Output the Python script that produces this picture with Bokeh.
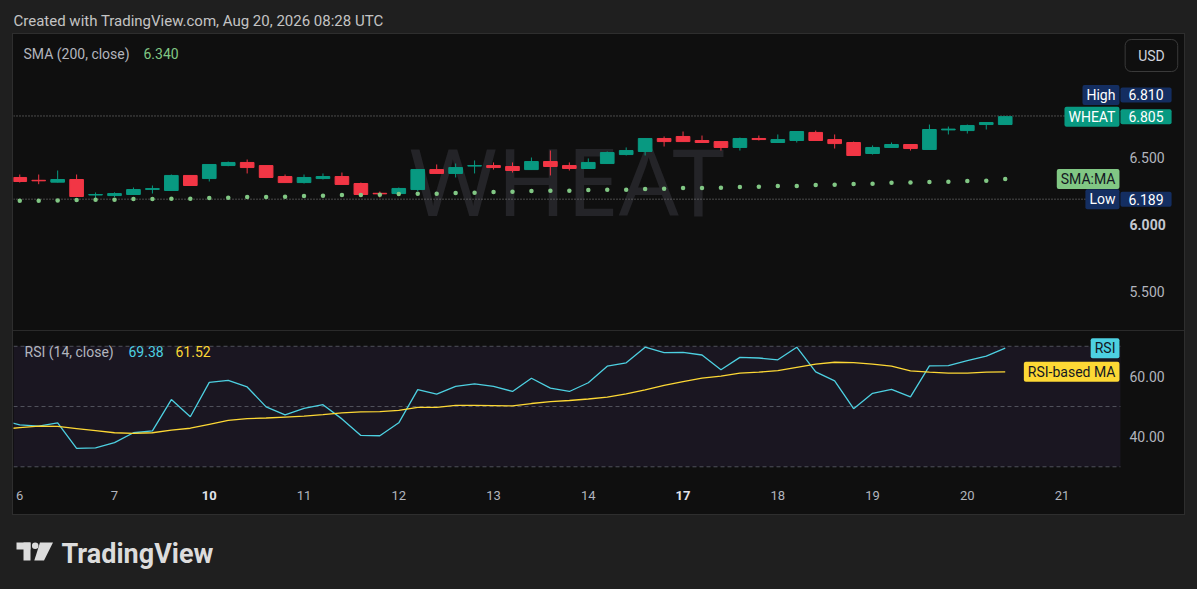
from bokeh.plotting import figure
from bokeh.layouts import column
from bokeh.models import (ColumnDataSource, Range1d, FixedTicker, PrintfTickFormatter,
                          BoxAnnotation, Label, LinearAxis)
from bokeh.core.properties import value
from bokeh.embed import file_html
from bokeh.resources import INLINE

# ---------------- data ----------------
SYMBOL = "WHEAT"
HEADER = "Created with TradingView.com, Aug 20, 2026 08:28 UTC"
DAY_LABELS = ["6", "7", "10", "11", "12", "13", "14", "17", "18", "19", "20", "21"]
BARS_PER_DAY = 5

OPEN = [6.351, 6.330, 6.316, 6.336, 6.220, 6.216, 6.224, 6.262, 6.254, 6.366,
        6.343, 6.440, 6.463, 6.440, 6.358, 6.313, 6.343, 6.358, 6.306, 6.233,
        6.231, 6.261, 6.410, 6.381, 6.436, 6.440, 6.433, 6.410, 6.470, 6.440,
        6.418, 6.455, 6.522, 6.545, 6.642, 6.657, 6.627, 6.619, 6.575, 6.642,
        6.612, 6.627, 6.687, 6.634, 6.612, 6.530, 6.575, 6.597, 6.560, 6.706,
        6.701, 6.746, 6.746]
HIGH = [6.373, 6.373, 6.403, 6.373, 6.239, 6.240, 6.276, 6.291, 6.373, 6.366,
        6.448, 6.470, 6.485, 6.440, 6.373, 6.373, 6.381, 6.388, 6.313, 6.246,
        6.276, 6.410, 6.448, 6.455, 6.478, 6.463, 6.463, 6.500, 6.552, 6.463,
        6.493, 6.545, 6.575, 6.642, 6.657, 6.694, 6.664, 6.619, 6.649, 6.664,
        6.672, 6.694, 6.701, 6.672, 6.619, 6.590, 6.612, 6.597, 6.746, 6.731,
        6.746, 6.761, 6.810]
LOW = [6.313, 6.301, 6.314, 6.207, 6.189, 6.205, 6.222, 6.231, 6.254, 6.291,
       6.321, 6.435, 6.381, 6.351, 6.313, 6.306, 6.336, 6.299, 6.224, 6.201,
       6.231, 6.250, 6.381, 6.351, 6.381, 6.410, 6.388, 6.410, 6.366, 6.403,
       6.418, 6.455, 6.515, 6.515, 6.582, 6.619, 6.612, 6.552, 6.552, 6.627,
       6.612, 6.612, 6.627, 6.567, 6.515, 6.522, 6.575, 6.552, 6.560, 6.672,
       6.679, 6.709, 6.746]
CLOSE = [6.321, 6.326, 6.336, 6.209, 6.224, 6.231, 6.261, 6.268, 6.366, 6.291,
         6.448, 6.463, 6.425, 6.351, 6.313, 6.351, 6.358, 6.299, 6.224, 6.229,
         6.269, 6.410, 6.381, 6.425, 6.440, 6.425, 6.403, 6.470, 6.433, 6.418,
         6.463, 6.537, 6.552, 6.642, 6.619, 6.619, 6.612, 6.575, 6.642, 6.634,
         6.634, 6.694, 6.627, 6.604, 6.515, 6.575, 6.597, 6.567, 6.709, 6.712,
         6.739, 6.761, 6.805]
SMA200 = [6.177, 6.178, 6.179, 6.183, 6.184, 6.185, 6.190, 6.191, 6.192, 6.193,
          6.198, 6.199, 6.205, 6.206, 6.207, 6.213, 6.214, 6.220, 6.221, 6.222,
          6.228, 6.229, 6.230, 6.236, 6.237, 6.243, 6.244, 6.250, 6.251, 6.252,
          6.258, 6.259, 6.260, 6.265, 6.266, 6.272, 6.273, 6.274, 6.280, 6.281,
          6.287, 6.288, 6.295, 6.296, 6.302, 6.304, 6.312, 6.314, 6.318, 6.319,
          6.325, 6.327, 6.340]
# RSI series start one bar before the first visible candle
RSI = [45.5,
       43.9, 43.5, 44.6, 36.1, 36.3, 38.0, 41.3, 41.9, 52.3, 46.6,
       58.0, 58.7, 56.5, 49.9, 47.2, 49.4, 50.6, 45.9, 40.4, 40.3,
       44.6, 55.6, 54.1, 56.7, 57.5, 56.7, 55.0, 59.4, 56.1, 55.0,
       57.9, 63.4, 64.5, 69.7, 67.9, 68.0, 67.1, 62.2, 66.3, 66.1,
       65.5, 69.7, 61.5, 58.5, 49.3, 54.4, 55.7, 53.2, 63.5, 63.6,
       65.2, 66.7, 69.38]
RSI_MA = [42.4,
          43.0, 43.5, 43.4, 42.7, 42.0, 41.3, 41.1, 41.3, 42.2, 42.8,
          44.1, 45.4, 46.0, 46.2, 46.5, 46.8, 47.3, 47.9, 48.2, 48.3,
          48.7, 49.7, 49.7, 50.4, 50.4, 50.3, 50.2, 51.0, 51.6, 52.0,
          52.5, 53.1, 54.2, 55.5, 57.0, 58.3, 59.4, 60.1, 61.1, 61.4,
          61.9, 63.0, 64.1, 64.7, 64.6, 64.1, 63.4, 61.8, 61.4, 61.1,
          61.1, 61.4, 61.52]
PRICE_TICKS = [5.5, 6.0, 6.5]
PRICE_ROUND = 6.0          # whole-number level, drawn in bold
RSI_TICKS = [40, 60]
RSI_BANDS = [70, 50, 30]

# ---------------- style ----------------
FONT = "Roboto"
UP, DOWN = "#089981", "#f23645"
SMA_C, RSI_C, MA_C = "#81c784", "#4dd0e1", "#fdd835"
NAVY = "#142e61"
TXT = "#b2b5be"
W = 1197

n = len(CLOSE)
bar_x = list(range(n))
rsi_x = list(range(-1, n))

# frame spans the pane plus the price-scale strip on its right
x_range = Range1d(-0.33, 61.46)
PANE_END = 58.08          # right edge of the drawing pane (start of price scale)
price_range = Range1d(5.209, 7.418)
rsi_range = Range1d(22.8, 74.9)


def style_axis(ax, standoff, size="14px", color=TXT, bold=False):
    ax.axis_line_color = None
    ax.major_tick_line_color = None
    ax.minor_tick_line_color = None
    ax.major_tick_out = 0
    ax.major_tick_in = 0
    ax.major_label_standoff = standoff
    ax.major_label_text_font = FONT
    ax.major_label_text_font_size = size
    ax.major_label_text_color = color
    ax.major_label_text_font_style = "bold" if bold else "normal"


def base_fig(height, y_range, **kw):
    f = figure(width=W, height=height, x_range=x_range, y_range=y_range,
               output_backend="svg", toolbar_location=None, tools="",
               min_border_left=13, min_border_right=13, y_axis_location="right", **kw)
    f.background_fill_alpha = 0
    f.border_fill_alpha = 0
    f.outline_line_color = None
    f.grid.visible = False
    style_axis(f.yaxis[0], -55)
    return f


def tag(fig, text, y, bg, fg, inside, y_offset=0, pad_x=4):
    fig.add_layout(Label(
        x=PANE_END, y=y, text=text,
        text_align="right" if inside else "left", text_baseline="middle",
        x_offset=-1 if inside else 0, y_offset=y_offset,
        text_font=FONT, text_font_size="14px", text_color=fg,
        background_fill_color=bg, border_radius=2,
        padding=dict(left=pad_x, right=pad_x, top=2, bottom=2)))


def legend_text(fig, text, dx, color, dy):
    fig.add_layout(Label(
        x=fig.x_range.start, y=fig.y_range.end, text=text, x_offset=dx, y_offset=dy,
        text_align="left", text_baseline="middle", text_font=FONT,
        text_font_size="14px", text_color=color))


def hline(fig, lvl, color, dash, alpha=1.0):
    fig.segment(x0=[x_range.start], x1=[PANE_END], y0=[lvl], y1=[lvl], line_color=color,
                line_dash=dash, line_width=1, line_alpha=alpha)


# ---------------- price pane ----------------
p = base_fig(330, price_range, x_axis_location=None,
             min_border_top=34, min_border_bottom=0)
p.yaxis[0].ticker = FixedTicker(ticks=[t for t in PRICE_TICKS if t != PRICE_ROUND])
p.yaxis[0].formatter = PrintfTickFormatter(format="%.3f")
bold_y = LinearAxis(ticker=FixedTicker(ticks=[PRICE_ROUND]),
                    formatter=PrintfTickFormatter(format="%.3f"))
style_axis(bold_y, -55, color="#c4c7cf", bold=True)
p.add_layout(bold_y, "right")

p.title.text = HEADER
p.title.align = "left"
p.title.text_font = FONT
p.title.text_font_size = "15px"
p.title.text_font_style = "normal"
p.title.text_color = "#c4c4c4"
p.title.standoff = 9
p.title.offset = 0

p.add_layout(Label(x=(x_range.start + PANE_END) / 2,
                   y=(price_range.start + price_range.end) / 2, y_offset=3,
                   text=SYMBOL, text_font="Noto Sans", text_font_size="94px",
                   text_font_style="normal",
                   text_color="#242428", text_align="center", text_baseline="alphabetic",
                   level="underlay"))

src = ColumnDataSource(dict(
    x=bar_x, open=OPEN, high=HIGH, low=LOW, close=CLOSE,
    top=[max(o, c) for o, c in zip(OPEN, CLOSE)],
    bottom=[min(o, c) for o, c in zip(OPEN, CLOSE)],
    color=[UP if c >= o else DOWN for o, c in zip(OPEN, CLOSE)]))
hi, lo, last = max(HIGH), min(LOW), CLOSE[-1]
for lvl in (hi, lo):
    hline(p, lvl, "#8a8a8a", "1 2")
p.segment(x0="x", y0="low", x1="x", y1="high", line_color="color", line_width=1, source=src)
p.vbar(x="x", width=0.72, top="top", bottom="bottom", fill_color="color",
       line_color="color", line_width=1, source=src)
p.scatter(bar_x, SMA200, size=4.5, fill_color=SMA_C, line_color=None)

tag(p, "High", hi, NAVY, "#ffffff", True, y_offset=21)
tag(p, f"{hi:.3f}", hi, NAVY, "#ffffff", False, y_offset=21, pad_x=8)
tag(p, SYMBOL, last, UP, "#ffffff", True)
tag(p, f"{last:.3f}", last, UP, "#ffffff", False, pad_x=8)
tag(p, "SMA:MA", SMA200[-1], SMA_C, "#131722", True)
tag(p, "Low", lo, NAVY, "#ffffff", True)
tag(p, f"{lo:.3f}", lo, NAVY, "#ffffff", False, pad_x=8)

p.add_layout(Label(x=PANE_END, y=price_range.end, x_offset=31, y_offset=-21, text="USD",
                   text_align="center", text_baseline="middle", text_font=FONT,
                   text_font_size="14px", text_color="#d1d4dc",
                   border_line_color="#3a3a3a", border_radius=6,
                   padding=dict(left=13, right=13, top=8, bottom=8)))

legend_text(p, "SMA (200, close)", 10, TXT, -19)
legend_text(p, f"{SMA200[-1]:.3f}", 130, SMA_C, -19)

# ---------------- RSI pane ----------------
r = base_fig(186, rsi_range, x_axis_location="below",
             min_border_top=1, min_border_bottom=28)
r.yaxis[0].ticker = FixedTicker(ticks=RSI_TICKS)
r.yaxis[0].formatter = PrintfTickFormatter(format="%.2f")

day_ticks = [i * BARS_PER_DAY for i in range(len(DAY_LABELS))]
labels_by_tick = dict(zip(day_ticks, DAY_LABELS))
# first trading day of a week (calendar gap before it) is drawn in bold
week_starts = [t for t, a, b in zip(day_ticks[1:], DAY_LABELS[:-1], DAY_LABELS[1:])
               if int(b) - int(a) > 1]
xa = r.xaxis[0]
xa.ticker = FixedTicker(ticks=[t for t in day_ticks if t not in week_starts])
xa.major_label_overrides = labels_by_tick
style_axis(xa, 2, size="13px")
xb = LinearAxis(ticker=FixedTicker(ticks=week_starts), major_label_overrides=labels_by_tick)
style_axis(xb, -12, size="13px", color="#e0e3eb", bold=True)
r.add_layout(xb, "below")

r.add_layout(BoxAnnotation(bottom=min(RSI_BANDS), top=max(RSI_BANDS), right=PANE_END,
                           fill_color="#7e57c2", fill_alpha=0.1, line_color=None,
                           level="underlay"))
for b in RSI_BANDS:
    hline(r, b, "#787b86", "4 3", alpha=0.6)
r.line(rsi_x, RSI, line_color=RSI_C, line_width=1.3)
r.line(rsi_x, RSI_MA, line_color=MA_C, line_width=1.3)

tag(r, "RSI", RSI[-1], RSI_C, "#131722", True)
tag(r, "RSI-based MA", RSI_MA[-1], MA_C, "#131722", True)
legend_text(r, "RSI (14, close)", 11, TXT, -20)
legend_text(r, f"{RSI[-1]:.2f}", 115, RSI_C, -20)
legend_text(r, f"{RSI_MA[-1]:.2f}", 162, MA_C, -20)

# ---------------- footer logo ----------------
f = figure(width=W, height=73, x_range=Range1d(13, 1184), y_range=Range1d(589, 516),
           output_backend="svg", toolbar_location=None, tools="",
           x_axis_location=None, y_axis_location=None,
           min_border_left=13, min_border_right=13, min_border_top=0, min_border_bottom=0)
f.background_fill_alpha = 0
f.border_fill_alpha = 0
f.outline_line_color = None
f.grid.visible = False
LOGO_C = "#dcdcdc"
f.quad(left=[16, 23], right=[30, 30], top=[542, 542], bottom=[549, 560],
       fill_color=LOGO_C, line_color=None)
f.scatter([34.7], [545.2], size=6.5, fill_color=LOGO_C, line_color=None)
f.patch([39.5, 52.5, 43.5, 33.8], [542, 542, 560, 560], fill_color=LOGO_C, line_color=None)
f.text(x=[61], y=[553], text=["TradingView"], text_font=value(FONT), text_font_style="bold",
       text_font_size="27px", text_color=LOGO_C, text_baseline="alphabetic")

layout = column(p, r, f)

html = file_html(layout, INLINE)
css = ("<style>html{background:"
       "linear-gradient(#2a2a2a,#2a2a2a) 13px 330px / 1171px 1px no-repeat,"
       "linear-gradient(#0f0f0f,#0f0f0f) 13px 34px / 1171px 480px no-repeat,"
       "linear-gradient(#2e2e2e,#2e2e2e) 12px 33px / 1173px 482px no-repeat,"
       "#1f1f1f;}</style>")
html = html.replace("</head>", css + "</head>", 1)
open("out.html", "w").write(html)
